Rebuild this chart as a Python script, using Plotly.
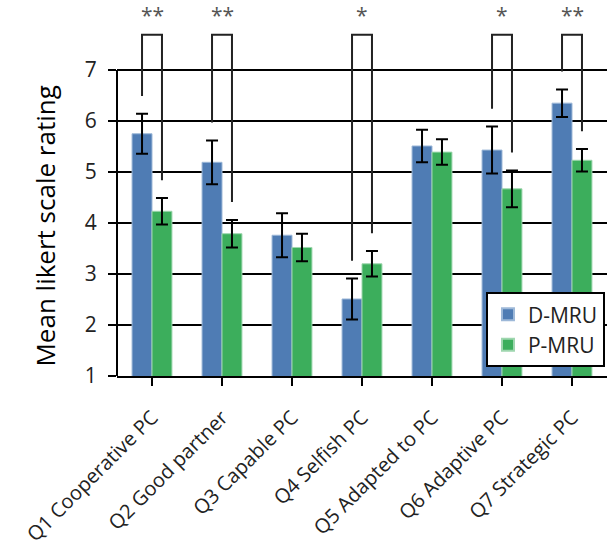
import plotly.graph_objects as go

categories = ["Q1 Cooperative PC", "Q2 Good partner", "Q3 Capable PC", "Q4 Selfish PC",
              "Q5 Adapted to PC", "Q6 Adaptive PC", "Q7 Strategic PC"]
d_mru = [5.75, 5.19, 3.76, 2.51, 5.51, 5.43, 6.35]
d_mru_err = [0.39, 0.43, 0.43, 0.40, 0.32, 0.46, 0.27]
p_mru = [4.23, 3.79, 3.52, 3.20, 5.39, 4.67, 5.23]
p_mru_err = [0.26, 0.27, 0.27, 0.25, 0.25, 0.36, 0.22]
# significance: category index -> label
sig_index = [0, 1, 3, 5, 6]
sig_label = ["**", "**", "*", "*", "**"]
bracket_top = 7.69
leg_gap = 0.35
y_ticks = [1, 2, 3, 4, 5, 6, 7]

BLUE = "#4F7CB4"
GREEN = "#3CAE5C"
FONT = "Open Sans"

fig = go.Figure()
fig.add_trace(go.Bar(
    x=list(range(len(categories))), y=d_mru, name="D-MRU",
    marker=dict(color=BLUE, line=dict(color="#9DB8D8", width=1)),
    error_y=dict(type="data", array=d_mru_err, color="black", thickness=2, width=6),
))
fig.add_trace(go.Bar(
    x=list(range(len(categories))), y=p_mru, name="P-MRU",
    marker=dict(color=GREEN, line=dict(color="#9ED6AE", width=1)),
    error_y=dict(type="data", array=p_mru_err, color="black", thickness=2, width=6),
))

bargap = 0.43
half = (1 - bargap) / 4  # centre offset of each bar in a 2-bar group
for idx, lab in zip(sig_index, sig_label):
    xl, xr = idx - half, idx + half
    yl = d_mru[idx] + d_mru_err[idx] + leg_gap
    yr = p_mru[idx] + p_mru_err[idx] + leg_gap
    fig.add_trace(go.Scatter(
        x=[xl, xl, xr, xr], y=[yl, bracket_top, bracket_top, yr],
        mode="lines", line=dict(color="#222222", width=2),
        showlegend=False, hoverinfo="skip", cliponaxis=False,
    ))
    fig.add_annotation(x=idx, y=bracket_top, text=lab, showarrow=False,
                       yanchor="bottom", yshift=4,
                       font=dict(family=FONT, size=21, color="#555555"))

# y axis line only across the 1..7 range
fig.add_shape(type="line", xref="paper", x0=0, x1=0, yref="y", y0=1, y1=7,
              line=dict(color="black", width=2))

# y axis title
fig.add_annotation(text="Mean likert scale rating", xref="paper", yref="paper",
                   x=-0.147, y=0.411, xanchor="center", yanchor="middle",
                   textangle=-90, showarrow=False,
                   font=dict(size=26, family=FONT, color="black"))

fig.update_layout(
    width=607, height=552,
    margin=dict(l=117, r=0, t=10, b=176),
    paper_bgcolor="white", plot_bgcolor="white",
    barmode="group", bargap=bargap, bargroupgap=0,
    font=dict(family=FONT, color="black"),
    legend=dict(x=0.753, y=0.229, xanchor="left", yanchor="top",
                bordercolor="black", borderwidth=2, bgcolor="white",
                font=dict(size=21, family=FONT, color="#222222"),
                itemsizing="constant", itemwidth=30, tracegroupgap=0),
    xaxis=dict(range=[-0.5, 6.5], tickmode="array", automargin=False,
               tickvals=list(range(len(categories))), ticktext=categories,
               tickangle=-45, tickson="boundaries", ticks="outside", ticklen=8,
               tickwidth=2, tickcolor="black", ticklabelstandoff=12,
               showline=True, linecolor="black", linewidth=2,
               showgrid=False, tickfont=dict(size=20, family=FONT, color="#222222")),
    yaxis=dict(range=[1, 1 + 366 / 51], tickvals=y_ticks, ticks="outside",
               automargin=False, ticklabelstandoff=7,
               ticklen=8, tickwidth=2, tickcolor="black",
               showline=False, showgrid=True, gridcolor="black", gridwidth=2,
               zeroline=False,
               tickfont=dict(size=21, family=FONT, color="#222222")),
)

fig.write_html("out.html", config={"displayModeBar": False},
               post_script="document.body.style.margin='0';document.body.style.overflow='hidden';")
